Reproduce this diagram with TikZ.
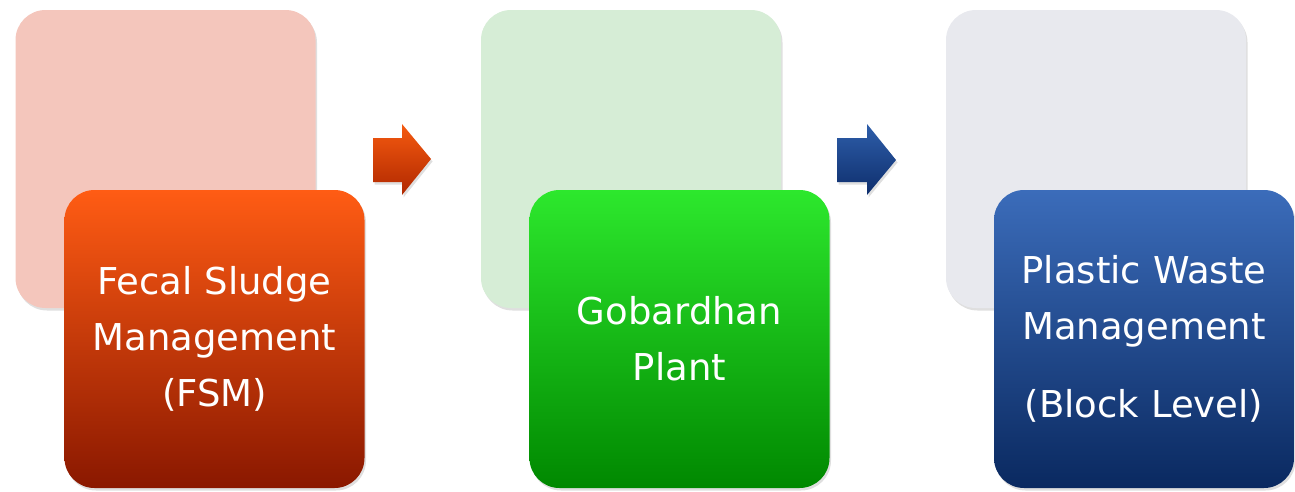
\documentclass[tikz,border=0pt]{standalone}
\usepackage{fontspec}
\setmainfont{DejaVu Sans}
\usetikzlibrary{shadows}
\definecolor{backA}{HTML}{F4C6BC}
\definecolor{backB}{HTML}{D6EDD6}
\definecolor{backC}{HTML}{E8E9EE}
\definecolor{redTop}{HTML}{FF5C14}
\definecolor{redBot}{HTML}{8A1800}
\definecolor{grnTop}{HTML}{2DE82D}
\definecolor{grnBot}{HTML}{008800}
\definecolor{bluTop}{HTML}{3B6CBA}
\definecolor{bluBot}{HTML}{0A2960}
\definecolor{arrRedTop}{HTML}{F55A10}
\definecolor{arrRedBot}{HTML}{B02800}
\definecolor{arrBluTop}{HTML}{2E5EAA}
\definecolor{arrBluBot}{HTML}{0E2E6C}
\tikzset{
  boxbase/.style={rounded corners=30pt, minimum width=300pt, minimum height=298pt,
    inner sep=0pt, draw=none,
    drop shadow={shadow xshift=1.5pt, shadow yshift=-2.5pt, opacity=0.25}},
  backbox/.style={boxbase, fill=#1},
  frontbox/.style={boxbase, text=white, align=center,
    font=\fontsize{37}{56}\selectfont},
  blockarrow/.style={draw=none,
    drop shadow={shadow xshift=1.5pt, shadow yshift=-2.5pt, opacity=0.25}}
}
\begin{document}
\begin{tikzpicture}[x=1pt,y=-1pt]
\useasboundingbox (0,0) rectangle (1295,491);
% group 1
\node[backbox=backA] (b1) at (165.5,159) {};
\node[frontbox, top color=redTop, bottom color=redBot] (f1) at (214.5,339)
  {Fecal Sludge\\Management\\(FSM)};
% group 2
\node[backbox=backB] (b2) at (631,159) {};
\node[frontbox, top color=grnTop, bottom color=grnBot] (f2) at (679.5,339)
  {Gobardhan\\Plant};
% group 3
\node[backbox=backC] (b3) at (1096,159) {};
\node[frontbox, top color=bluTop, bottom color=bluBot] (f3) at (1144,339)
  {Plastic Waste\\Management\\[22pt](Block Level)};
% arrows
\path[blockarrow, top color=arrRedTop, bottom color=arrRedBot]
  (373,138) -- (402,138) -- (402,124) -- (431,159) -- (402,195) -- (402,182) -- (373,182) -- cycle;
\path[blockarrow, top color=arrBluTop, bottom color=arrBluBot]
  (837,138) -- (867,138) -- (867,124) -- (896,160) -- (867,195) -- (867,182) -- (837,182) -- cycle;
\end{tikzpicture}
\end{document}
